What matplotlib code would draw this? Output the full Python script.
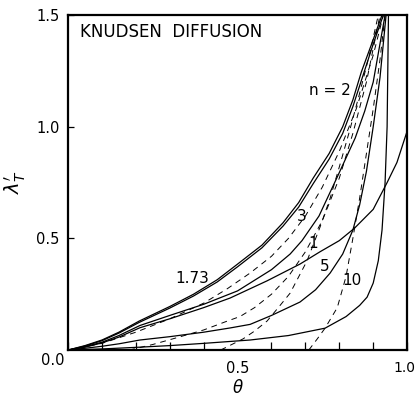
import matplotlib
matplotlib.use("Agg")
import matplotlib.pyplot as plt
from matplotlib.ticker import MultipleLocator

# solid curves, one per n
theta_n2 = [0, 0.05, 0.1, 0.15, 0.21, 0.3, 0.37, 0.44, 0.5, 0.572, 0.634, 0.68, 0.723, 0.77, 0.81, 0.84, 0.865, 0.9, 0.926]
lam_n2 = [0, 0.02, 0.045, 0.08, 0.13, 0.195, 0.25, 0.315, 0.385, 0.47, 0.57, 0.66, 0.77, 0.88, 1.0, 1.12, 1.245, 1.39, 1.5]

theta_n173 = [0, 0.05, 0.1, 0.15, 0.21, 0.3, 0.37, 0.44, 0.5, 0.572, 0.634, 0.68, 0.723, 0.77, 0.81, 0.84, 0.87, 0.9, 0.93]
lam_n173 = [0, 0.018, 0.042, 0.076, 0.124, 0.188, 0.242, 0.305, 0.373, 0.458, 0.555, 0.64, 0.745, 0.855, 0.97, 1.09, 1.23, 1.37, 1.5]

theta_n3 = [0, 0.05, 0.1, 0.15, 0.212, 0.3, 0.4, 0.5, 0.6, 0.655, 0.69, 0.74, 0.794, 0.847, 0.875, 0.9, 0.935]
lam_n3 = [0, 0.015, 0.035, 0.065, 0.11, 0.155, 0.205, 0.265, 0.36, 0.43, 0.49, 0.6, 0.775, 0.95, 1.07, 1.2, 1.5]

theta_n1 = [0, 0.05, 0.1, 0.15, 0.212, 0.3, 0.4, 0.478, 0.587, 0.684, 0.743, 0.8, 0.845, 0.9, 0.941, 0.97, 1.0]
lam_n1 = [0, 0.013, 0.032, 0.058, 0.1, 0.14, 0.19, 0.233, 0.31, 0.385, 0.44, 0.49, 0.546, 0.63, 0.75, 0.84, 0.98]

theta_n5 = [0, 0.05, 0.1, 0.15, 0.212, 0.3, 0.4, 0.478, 0.537, 0.6, 0.684, 0.73, 0.773, 0.81, 0.84, 0.86, 0.88, 0.9, 0.92, 0.938]
lam_n5 = [0, 0.008, 0.017, 0.028, 0.045, 0.06, 0.08, 0.099, 0.115, 0.155, 0.215, 0.27, 0.345, 0.43, 0.537, 0.65, 0.8, 1.0, 1.22, 1.5]

theta_n10 = [0, 0.1, 0.212, 0.3, 0.4, 0.537, 0.65, 0.758, 0.82, 0.86, 0.882, 0.9, 0.915, 0.926, 0.935, 0.941, 0.945]
lam_n10 = [0, 0.005, 0.013, 0.02, 0.03, 0.045, 0.065, 0.098, 0.15, 0.2, 0.237, 0.3, 0.4, 0.537, 0.75, 1.0, 1.5]

# dashed curves
theta_d1 = [0, 0.1, 0.2, 0.3, 0.4, 0.47, 0.537, 0.6, 0.65, 0.7, 0.75, 0.8, 0.85, 0.9, 0.93]
lam_d1 = [0, 0.03, 0.08, 0.14, 0.21, 0.275, 0.345, 0.42, 0.5, 0.6, 0.73, 0.89, 1.08, 1.32, 1.5]

theta_d2 = [0.18, 0.25, 0.32, 0.4, 0.47, 0.507, 0.55, 0.6, 0.65, 0.7, 0.75, 0.8, 0.84, 0.88, 0.92]
lam_d2 = [0, 0.025, 0.055, 0.09, 0.13, 0.15, 0.19, 0.25, 0.33, 0.44, 0.58, 0.77, 0.97, 1.2, 1.5]

theta_d3 = [0.45, 0.516, 0.55, 0.587, 0.62, 0.655, 0.705, 0.743, 0.773, 0.8, 0.83, 0.86, 0.89, 0.915]
lam_d3 = [0, 0.05, 0.085, 0.13, 0.19, 0.255, 0.40, 0.55, 0.68, 0.82, 0.98, 1.15, 1.33, 1.5]

theta_d4 = [0.71, 0.735, 0.758, 0.794, 0.82, 0.84, 0.86, 0.88, 0.9, 0.92, 0.935]
lam_d4 = [0, 0.05, 0.098, 0.19, 0.33, 0.5, 0.68, 0.88, 1.08, 1.3, 1.5]

solidas = [(theta_n2, lam_n2), (theta_n173, lam_n173), (theta_n3, lam_n3),
           (theta_n1, lam_n1), (theta_n5, lam_n5), (theta_n10, lam_n10)]
tracejadas = [(theta_d1, lam_d1), (theta_d2, lam_d2), (theta_d3, lam_d3), (theta_d4, lam_d4)]

# curve labels: text, theta, lambda
rotulos = [("n = 2", 0.773, 1.164), ("3", 0.69, 0.596), ("1", 0.723, 0.479),
           ("1.73", 0.366, 0.322), ("5", 0.758, 0.372), ("10", 0.838, 0.313)]

fig = plt.figure(figsize=(4.15, 3.96), dpi=100)
ax = fig.add_axes([0.164, 0.116, 0.817, 0.846])

for t, l in solidas:
    ax.plot(t, l, color="black", lw=0.9)
for t, l in tracejadas:
    ax.plot(t, l, color="black", lw=0.7, dashes=(6, 5))

for texto, t, l in rotulos:
    ax.text(t, l, texto, ha="center", va="center", fontsize=11)

ax.text(0.035, 0.95, "KNUDSEN  DIFFUSION", transform=ax.transAxes,
        ha="left", va="center", fontsize=12)

ax.set_xlim(0, 1.0)
ax.set_ylim(0, 1.5)
ax.set_xticks([0.5])
ax.set_xticklabels(["0.5"], fontsize=10.5)
ax.xaxis.set_minor_locator(MultipleLocator(0.1))
ax.tick_params(axis="x", which="major", length=0, pad=8)
ax.tick_params(axis="x", which="minor", direction="in", length=6, width=0.9)
ax.set_yticks([0.5, 1.0, 1.5])
ax.set_yticklabels(["0.5", "1.0", "1.5"], fontsize=10.5)
ax.tick_params(axis="y", direction="in", length=4, width=0.9, pad=6)
ax.text(-0.01, -0.015, "0.0", ha="right", va="top", fontsize=10.5)
ax.text(0.992, -0.05, "1.0", ha="center", va="top", fontsize=10)

for lado in ax.spines.values():
    lado.set_linewidth(1.6)

ax.set_xlabel(r"$\theta$", fontsize=12, labelpad=2)
ax.set_ylabel(r"$\lambda_T'$", fontsize=14, labelpad=6)

fig.savefig("out.png", dpi=100)
